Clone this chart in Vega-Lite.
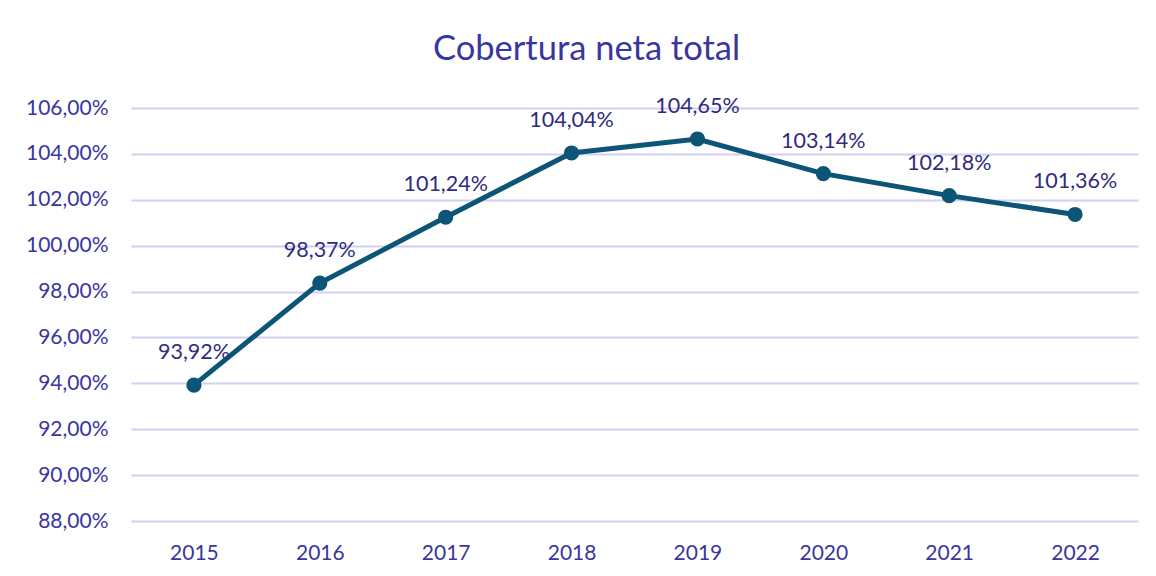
{
  "$schema": "https://vega.github.io/schema/vega-lite/v6.json",
  "width": 1007,
  "height": 413,
  "autosize": {"type": "none"},
  "padding": {"left": 131, "top": 108, "right": 18, "bottom": 55},
  "background": "white",
  "title": {
    "text": "Cobertura neta total",
    "font": "Lato",
    "fontSize": 34.5,
    "fontWeight": "normal",
    "color": "#3a36a0",
    "anchor": "middle",
    "dx": -48,
    "offset": 28
  },
  "data": {
    "values": [
      {"year": "2015", "value": 93.92, "label": "93,92%"},
      {"year": "2016", "value": 98.37, "label": "98,37%"},
      {"year": "2017", "value": 101.24, "label": "101,24%"},
      {"year": "2018", "value": 104.04, "label": "104,04%"},
      {"year": "2019", "value": 104.65, "label": "104,65%"},
      {"year": "2020", "value": 103.14, "label": "103,14%"},
      {"year": "2021", "value": 102.18, "label": "102,18%"},
      {"year": "2022", "value": 101.36, "label": "101,36%"}
    ]
  },
  "encoding": {
    "x": {
      "field": "year",
      "type": "ordinal",
      "scale": {"type": "point", "padding": 0.5},
      "axis": {
        "title": null,
        "labelAngle": 0,
        "domain": false,
        "ticks": false,
        "labelPadding": 21,
        "labelFont": "Lato",
        "labelFontSize": 21,
        "labelColor": "#3a36a0"
      }
    },
    "y": {
      "field": "value",
      "type": "quantitative",
      "scale": {"domain": [88, 106], "nice": false, "zero": false},
      "axis": {
        "title": null,
        "values": [88, 90, 92, 94, 96, 98, 100, 102, 104, 106],
        "labelExpr": "replace(format(datum.value, '.2f'), '.', ',') + '%'",
        "domain": false,
        "ticks": false,
        "labelPadding": 23,
        "labelFont": "Lato",
        "labelFontSize": 21,
        "labelColor": "#3a36a0",
        "gridColor": "#d2d0f0",
        "gridWidth": 2
      }
    }
  },
  "layer": [
    {
      "mark": {"type": "line", "color": "#0c5577", "strokeWidth": 5}
    },
    {
      "mark": {"type": "point", "filled": true, "opacity": 1, "color": "#0c5577", "size": 230}
    },
    {
      "mark": {
        "type": "text",
        "dy": -32,
        "font": "Lato",
        "fontSize": 21.5,
        "color": "#2f2b80"
      },
      "encoding": {"text": {"field": "label"}}
    }
  ],
  "config": {
    "view": {"stroke": null}
  }
}
